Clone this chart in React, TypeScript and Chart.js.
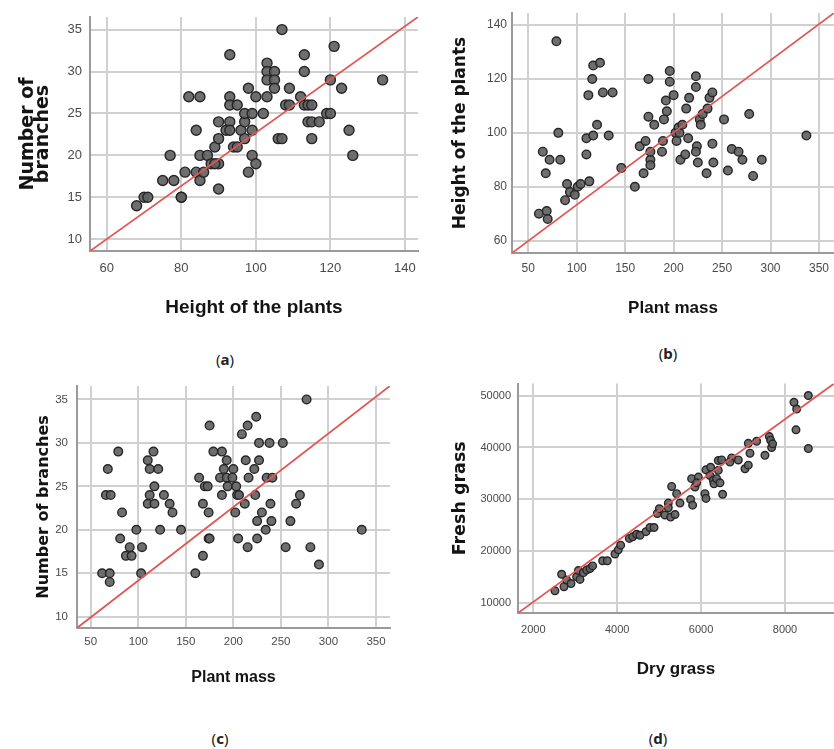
import React, { useEffect, useRef } from "react";
import { Chart, registerables } from "chart.js";

Chart.register(...registerables);

// ---------- Panel (a): Height of the plants vs Number of branches ----------
const heightA = [68, 70, 71, 75, 77, 78, 80, 80, 81, 82, 84, 84, 85, 85, 85, 86, 87, 88, 89, 90, 90, 90, 90, 89, 93, 93, 93, 93, 92, 93, 94, 95, 95, 96, 97, 97, 97, 98, 98, 99, 99, 99, 100, 100, 102, 103, 103, 103, 103, 105, 105, 105, 106, 107, 107, 108, 109, 109, 112, 113, 113, 113, 114, 115, 114, 115, 115, 117, 119, 120, 120, 121, 123, 125, 126, 134];
const branchesA = [14, 15, 15, 17, 20, 17, 15, 15, 18, 27, 23, 18, 27, 20, 17, 18, 20, 19, 21, 22, 19, 16, 24, 19, 32, 27, 26, 24, 23, 23, 21, 21, 26, 23, 24, 25, 22, 28, 18, 25, 23, 20, 27, 19, 25, 31, 30, 29, 27, 30, 29, 28, 22, 22, 35, 26, 26, 28, 27, 32, 30, 26, 24, 24, 26, 26, 22, 24, 25, 25, 29, 33, 28, 23, 20, 29];
const xTicksA = [60, 80, 100, 120, 140];
const yTicksA = [10, 15, 20, 25, 30, 35];

// ---------- Panel (b): Plant mass vs Height of the plants ----------
const massB = [61, 69, 70, 65, 68, 72, 79, 81, 83, 88, 90, 93, 98, 101, 104, 110, 110, 112, 113, 116, 117, 117, 121, 124, 127, 133, 137, 146, 160, 165, 169, 171, 174, 174, 176, 176, 176, 180, 188, 189, 190, 192, 193, 196, 196, 200, 202, 203, 205, 206, 207, 209, 212, 213, 216, 215, 223, 223, 224, 223, 225, 227, 228, 230, 235, 237, 240, 240, 241, 234, 252, 256, 260, 267, 271, 278, 282, 291, 337];
const heightB = [70, 71, 68, 93, 85, 90, 134, 100, 90, 75, 81, 78, 77, 80, 81, 98, 92, 114, 82, 120, 125, 99, 103, 126, 115, 99, 115, 87, 80, 95, 85, 97, 120, 106, 90, 93, 88, 103, 93, 97, 105, 112, 108, 123, 119, 114, 100, 97, 102, 100, 90, 103, 92, 109, 113, 98, 121, 117, 95, 93, 89, 105, 103, 107, 109, 113, 115, 96, 89, 85, 105, 86, 94, 93, 90, 107, 84, 90, 99];
const xTicksB = [50, 100, 150, 200, 250, 300, 350];
const yTicksB = [60, 80, 100, 120, 140];

// ---------- Panel (c): Plant mass vs Number of branches ----------
const massC = [62, 70, 70, 68, 66, 71, 79, 83, 81, 87, 93, 91, 98, 104, 103, 110, 112, 116, 117, 112, 110, 117, 121, 123, 127, 133, 136, 145, 160, 164, 168, 170, 173, 174, 174, 175, 168, 175, 179, 188, 186, 188, 190, 193, 193, 194, 200, 199, 203, 204, 206, 202, 205, 209, 212, 213, 215, 216, 215, 223, 222, 224, 225, 225, 227, 227, 230, 234, 235, 241, 238, 239, 240, 252, 255, 260, 266, 270, 277, 281, 290, 335];
const branchesC = [15, 15, 14, 27, 24, 24, 29, 22, 19, 17, 17, 18, 20, 18, 15, 28, 27, 29, 25, 24, 23, 23, 27, 20, 24, 23, 22, 20, 15, 26, 23, 25, 25, 22, 19, 19, 17, 32, 29, 29, 26, 24, 27, 28, 26, 25, 27, 26, 25, 24, 24, 22, 19, 31, 23, 28, 32, 26, 18, 24, 27, 33, 19, 21, 30, 28, 22, 20, 26, 26, 30, 23, 21, 30, 18, 21, 23, 24, 35, 18, 16, 20];
const xTicksC = [50, 100, 150, 200, 250, 300, 350];
const yTicksC = [10, 15, 20, 25, 30, 35];

// ---------- Panel (d): Dry grass vs Fresh grass ----------
const dryD = [2516, 2675, 2731, 2795, 2898, 3033, 3073, 3112, 3192, 3271, 3351, 3414, 3653, 3764, 3947, 4026, 4082, 4289, 4368, 4463, 4543, 4686, 4781, 4877, 4956, 5004, 5139, 5218, 5218, 5274, 5298, 5377, 5417, 5496, 5750, 5798, 5774, 5854, 5933, 5893, 6092, 6116, 6116, 6211, 6227, 6291, 6307, 6370, 6410, 6450, 6410, 6490, 6513, 6728, 6688, 6887, 7046, 7125, 7165, 7125, 7324, 7522, 7626, 7658, 7681, 7705, 8214, 8278, 8262, 8556, 8556];
const freshD = [12400, 15600, 13200, 14500, 13800, 15100, 16300, 14600, 15900, 16400, 16700, 17200, 18200, 18200, 19500, 20300, 21200, 22500, 22800, 23300, 23100, 23800, 24600, 24600, 27300, 28200, 27000, 29300, 28400, 26600, 32500, 27100, 31100, 29300, 30000, 28900, 34000, 32400, 34300, 33200, 31100, 30200, 35700, 34600, 36200, 33700, 33000, 34000, 35600, 33200, 37500, 37600, 31000, 38000, 37200, 37600, 35900, 36600, 38900, 40800, 41200, 38500, 42100, 41400, 40000, 40700, 48700, 47400, 43400, 50000, 39800];
const xTicksD = [2000, 4000, 6000, 8000];
const yTicksD = [10000, 20000, 30000, 40000, 50000];

const SANS = "'Liberation Sans', Arial, sans-serif";
const WIDE = "'DejaVu Sans', Verdana, sans-serif";
const RED = "#e25656";
const FILL = "rgba(98,98,98,0.92)";
const EDGE = "#262626";
const GRID = "#d0d0d0";
const AXIS = "#9a9a9a";

type Box = { left: number; top: number; width: number; height: number };
type Plot = { l: number; t: number; r: number; b: number };

type PanelProps = {
  box: Box;
  plot: Plot;
  xs: number[];
  ys: number[];
  xRange: [number, number];
  yRange: [number, number];
  xTicks: number[];
  yTicks: number[];
  xTitle: string;
  yTitle: string | string[];
  xTitleSize: number;
  yTitleSize: number;
  yTitleLH: number;
  xTitlePad: number;
  yTitlePad: number;
  tickSize: number;
  xTickPad: number;
  yTickPad: number;
  radius: number;
};

const plain = (v: any) => String(v);

function Panel(p: PanelProps) {
  const ref = useRef<HTMLCanvasElement | null>(null);
  useEffect(() => {
    const canvas = ref.current;
    if (!canvas) return;
    const pts = p.xs.map((x, i) => ({ x, y: p.ys[i] }));
    const chart = new Chart(canvas, {
      type: "scatter",
      data: {
        datasets: [
          {
            data: [
              { x: p.xRange[0], y: p.yRange[0] },
              { x: p.xRange[1], y: p.yRange[1] },
            ],
            showLine: true,
            borderColor: RED,
            borderWidth: 1.8,
            pointRadius: 0,
            pointHoverRadius: 0,
            fill: false,
          } as any,
          {
            data: pts,
            pointRadius: p.radius,
            pointHoverRadius: p.radius,
            backgroundColor: FILL,
            borderColor: EDGE,
            borderWidth: 1.4,
          },
        ],
      },
      options: {
        animation: false,
        responsive: false,
        maintainAspectRatio: false,
        devicePixelRatio: 1,
        events: [],
        layout: {
          padding: {
            left: 0,
            top: p.plot.t - p.box.top,
            right: p.box.left + p.box.width - p.plot.r,
            bottom: 0,
          },
        },
        plugins: {
          legend: { display: false },
          tooltip: { enabled: false },
        },
        scales: {
          x: {
            type: "linear",
            min: p.xRange[0],
            max: p.xRange[1],
            afterBuildTicks: (s: any) => {
              s.ticks = p.xTicks.map((v) => ({ value: v }));
            },
            afterFit: (s: any) => {
              s.height = p.box.top + p.box.height - p.plot.b;
            },
            ticks: {
              padding: p.xTickPad,
              color: "#4a4a4a",
              font: { family: SANS, size: p.tickSize },
              maxRotation: 0,
              autoSkip: false,
              callback: plain,
            },
            grid: { color: GRID, lineWidth: 2, drawTicks: false },
            border: { color: AXIS, width: 2 },
            title: {
              display: true,
              text: p.xTitle,
              color: "#141414",
              font: { family: SANS, size: p.xTitleSize, weight: "bold" },
              padding: { top: 0, bottom: p.xTitlePad },
            },
          },
          y: {
            type: "linear",
            min: p.yRange[0],
            max: p.yRange[1],
            afterBuildTicks: (s: any) => {
              s.ticks = p.yTicks.map((v) => ({ value: v }));
            },
            afterFit: (s: any) => {
              s.width = p.plot.l - p.box.left;
            },
            ticks: {
              padding: p.yTickPad,
              color: "#4a4a4a",
              font: { family: SANS, size: p.tickSize },
              autoSkip: false,
              callback: plain,
            },
            grid: { color: GRID, lineWidth: 2, drawTicks: false },
            border: { color: AXIS, width: 2 },
            title: {
              display: true,
              text: p.yTitle,
              color: "#141414",
              font: { family: WIDE, size: p.yTitleSize, weight: "bold", lineHeight: p.yTitleLH },
              padding: { top: p.yTitlePad, bottom: 0 },
            },
          },
        },
      },
    } as any);
    return () => chart.destroy();
  }, []);
  return (
    <canvas
      ref={ref}
      width={p.box.width}
      height={p.box.height}
      style={{
        position: "absolute",
        left: p.box.left,
        top: p.box.top,
        width: p.box.width,
        height: p.box.height,
      }}
    />
  );
}

function Caption({ x, y, letter }: { x: number; y: number; letter: string }) {
  return (
    <div
      style={{
        position: "absolute",
        left: x,
        top: y,
        transform: "translate(-50%, -50%)",
        fontFamily: "'Noto Sans', sans-serif",
        fontSize: 15,
        color: "#222",
        whiteSpace: "nowrap",
        lineHeight: 1,
      }}
    >
      (<b>{letter}</b>)
    </div>
  );
}

export default function App() {
  return (
    <div
      style={{
        position: "absolute",
        left: 0,
        top: 0,
        width: 834,
        height: 749,
        overflow: "hidden",
        background: "#fff",
      }}
    >
      <Panel
        box={{ left: 0, top: 0, width: 440, height: 335 }}
        plot={{ l: 90, t: 17, r: 418, b: 251 }}
        xs={heightA}
        ys={branchesA}
        xRange={[55.5, 143.5]}
        yRange={[8.6, 36.5]}
        xTicks={xTicksA}
        yTicks={yTicksA}
        xTitle="Height of the plants"
        yTitle={["Number of", "branches"]}
        xTitleSize={19}
        yTitleSize={19}
        yTitleLH={0.8}
        xTitlePad={15.6}
        yTitlePad={20}
        tickSize={13}
        xTickPad={9.5}
        yTickPad={8}
        radius={5}
      />
      <Panel
        box={{ left: 420, top: 0, width: 434, height: 335 }}
        plot={{ l: 512, t: 13, r: 834, b: 253 }}
        xs={massB}
        ys={heightB}
        xRange={[33.2, 365.5]}
        yRange={[55.4, 144.5]}
        xTicks={xTicksB}
        yTicks={yTicksB}
        xTitle="Plant mass"
        yTitle="Height of the plants"
        xTitleSize={17}
        yTitleSize={17}
        yTitleLH={1.2}
        xTitlePad={16.8}
        yTitlePad={30}
        tickSize={12}
        xTickPad={8.8}
        yTickPad={5}
        radius={4.3}
      />
      <Panel
        box={{ left: 0, top: 370, width: 420, height: 335 }}
        plot={{ l: 77, t: 383, r: 390, b: 628 }}
        xs={massC}
        ys={branchesC}
        xRange={[35.6, 364.7]}
        yRange={[8.7, 36.56]}
        xTicks={xTicksC}
        yTicks={yTicksC}
        xTitle="Plant mass"
        yTitle="Number of branches"
        xTitleSize={16}
        yTitleSize={16}
        yTitleLH={1.2}
        xTitlePad={17.4}
        yTitlePad={33.9}
        tickSize={11.5}
        xTickPad={6.8}
        yTickPad={9}
        radius={4.3}
      />
      <Panel
        box={{ left: 420, top: 370, width: 434, height: 335 }}
        plot={{ l: 518, t: 383, r: 834, b: 613 }}
        xs={dryD}
        ys={freshD}
        xRange={[1635, 9168]}
        yRange={[8138, 52300]}
        xTicks={xTicksD}
        yTicks={yTicksD}
        xTitle="Dry grass"
        yTitle="Fresh grass"
        xTitleSize={17}
        yTitleSize={17.5}
        yTitleLH={1.2}
        xTitlePad={25.8}
        yTitlePad={30}
        tickSize={11}
        xTickPad={10.4}
        yTickPad={7}
        radius={3.8}
      />
      <Caption x={225} y={359} letter="a" />
      <Caption x={668} y={353} letter="b" />
      <Caption x={220} y={738} letter="c" />
      <Caption x={658} y={738} letter="d" />
    </div>
  );
}
